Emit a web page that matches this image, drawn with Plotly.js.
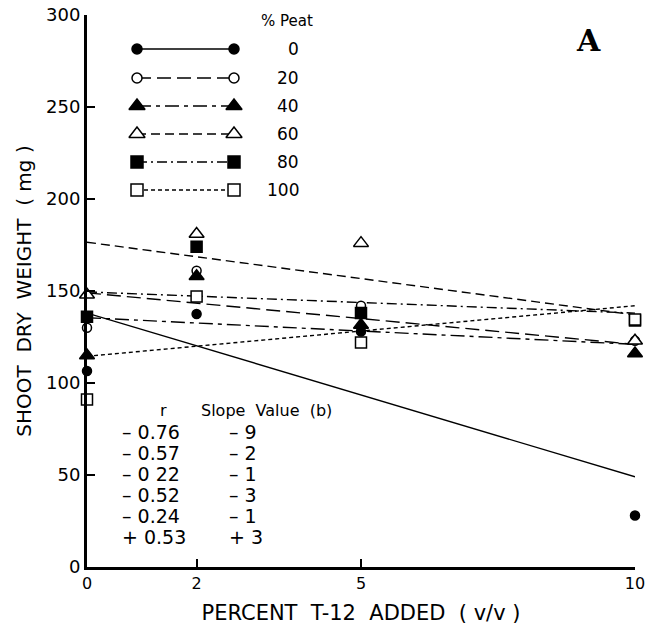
<!DOCTYPE html>
<html>
<head>
<meta charset="utf-8">
<script src="https://cdn.plot.ly/plotly-3.0.1.min.js"></script>
<style>html,body{margin:0;padding:0;background:#fff;}#chart{width:646px;height:632px;}</style>
</head>
<body>
<div id="chart"></div>
<script>
// ---- data ----
const xValues = [0, 2, 5, 10];
const peatLevels = ["0", "20", "40", "60", "80", "100"];
const peat0 = [106.5, 137.5, 128, 28];
const peat20 = [130, 161, 142, 123];
const peat40 = [115, 158, 131.5, 116];
const peat60 = [148, 181, 176, 123];
const peat80 = [136, 174, 138, 134];
const peat100 = [91, 147, 122, 134.5];
// regression lines (value at x=0 and at x=10)
const fitAt0 = [138, 149, 135.5, 176.5, 149.5, 114.5];
const fitAt10 = [49, 121, 121, 137, 138, 142];
const rValues = ["\u2013 0.76", "\u2013 0.57", "\u2013 0 22", "\u2013 0.52", "\u2013 0.24", "+ 0.53"];
const slopeValues = ["\u2013 9", "\u2013 2", "\u2013 1", "\u2013 3", "\u2013 1", "+ 3"];
const yTicks = [0, 50, 100, 150, 200, 250, 300];
const xTicks = [0, 2, 5, 10];

// ---- styles ----
const series = [peat0, peat20, peat40, peat60, peat80, peat100];
const symbols = ["circle", "circle", "triangle-up", "triangle-up", "square", "square"];
const fills = ["black", "white", "black", "white", "black", "white"];
const sizes = [9, 9, 13, 13, 11, 11];
const dashes = ["solid", "14px,6px", "14px,5px,4px,5px", "9px,5px", "10px,4px,2px,4px", "4px,3px"];
const FONT = "DejaVu Sans, sans-serif";

const traces = [];
series.forEach((ys, i) => {
  traces.push({
    x: [xTicks[0], xTicks[xTicks.length - 1]], y: [fitAt0[i], fitAt10[i]],
    mode: "lines", line: {color: "black", width: 1.4, dash: dashes[i]},
    hoverinfo: "skip", showlegend: false, cliponaxis: false
  });
});
series.forEach((ys, i) => {
  traces.push({
    x: xValues, y: ys, mode: "markers", cliponaxis: false, showlegend: false,
    marker: {symbol: symbols[i], size: sizes[i], color: fills[i], line: {color: "black", width: 1.5}}
  });
});

// legend drawn on an overlay pixel-like axis
const legRows = [49, 78, 106, 134, 162, 190];
const legX0 = 137, legX1 = 234;
const annotations = [];
peatLevels.forEach((lab, i) => {
  traces.push({
    x: [legX0, legX1], y: [legRows[i], legRows[i]], xaxis: "x2", yaxis: "y2",
    mode: "lines+markers", showlegend: false, cliponaxis: false, hoverinfo: "skip",
    line: {color: "black", width: 1.4, dash: dashes[i]},
    marker: {symbol: symbols[i], size: sizes[i] + 1, color: fills[i], line: {color: "black", width: 1.5}}
  });
  annotations.push({xref: "x2", yref: "y2", x: 301, y: legRows[i], text: lab, showarrow: false,
    xanchor: "right", yanchor: "middle", font: {family: FONT, size: 17, color: "black"}});
});
annotations.push({xref: "x2", yref: "y2", x: 259, y: 21, text: "% Peat", showarrow: false,
  xanchor: "left", yanchor: "middle", font: {family: FONT, size: 15, color: "black"}});
annotations.push({xref: "x2", yref: "y2", x: 588, y: 40, text: "<b>A</b>", showarrow: false,
  xanchor: "center", yanchor: "middle", font: {family: "DejaVu Serif, serif", size: 30, color: "black"}});
// r / slope table
annotations.push({xref: "x2", yref: "y2", x: 163, y: 410, text: "r", showarrow: false,
  xanchor: "center", yanchor: "middle", font: {family: FONT, size: 16, color: "black"}});
annotations.push({xref: "x2", yref: "y2", x: 199, y: 410, text: "Slope  Value  (b)", showarrow: false,
  xanchor: "left", yanchor: "middle", font: {family: FONT, size: 16, color: "black"}});
const tableRows = [432, 453, 474, 495, 516, 537];
rValues.forEach((r, i) => {
  annotations.push({xref: "x2", yref: "y2", x: 120, y: tableRows[i], text: r, showarrow: false,
    xanchor: "left", yanchor: "middle", font: {family: FONT, size: 19, color: "black"}});
  annotations.push({xref: "x2", yref: "y2", x: 227, y: tableRows[i], text: slopeValues[i], showarrow: false,
    xanchor: "left", yanchor: "middle", font: {family: FONT, size: 19, color: "black"}});
});

const layout = {
  width: 646, height: 632,
  margin: {l: 87, r: 11, t: 15, b: 65},
  paper_bgcolor: "white", plot_bgcolor: "white",
  showlegend: false,
  font: {family: FONT, color: "black", size: 15},
  xaxis: {
    range: [0, 10], tickvals: xTicks, ticktext: xTicks.map(String),
    showline: true, linewidth: 3, linecolor: "black", mirror: false,
    ticks: "inside", ticklen: 8, tickwidth: 2, tickcolor: "black",
    showgrid: false, zeroline: false,
    tickfont: {family: FONT, size: 16},
    title: {text: "PERCENT  T-12  ADDED  ( v/v )", font: {family: FONT, size: 21}, standoff: 14}
  },
  yaxis: {
    range: [0, 300], tickvals: yTicks,
    showline: true, linewidth: 3, linecolor: "black",
    ticks: "inside", ticklen: 8, tickwidth: 2, tickcolor: "black",
    showgrid: false, zeroline: false,
    tickfont: {family: FONT, size: 18},
    title: {text: "SHOOT  DRY  WEIGHT  ( mg )", font: {family: FONT, size: 20}, standoff: 10}
  },
  xaxis2: {overlaying: "x", range: [87, 635], visible: false, fixedrange: true},
  yaxis2: {overlaying: "y", range: [567, 15], visible: false, fixedrange: true},
  annotations: annotations
};

Plotly.newPlot("chart", traces, layout, {displayModeBar: false, staticPlot: true});
</script>
</body>
</html>
